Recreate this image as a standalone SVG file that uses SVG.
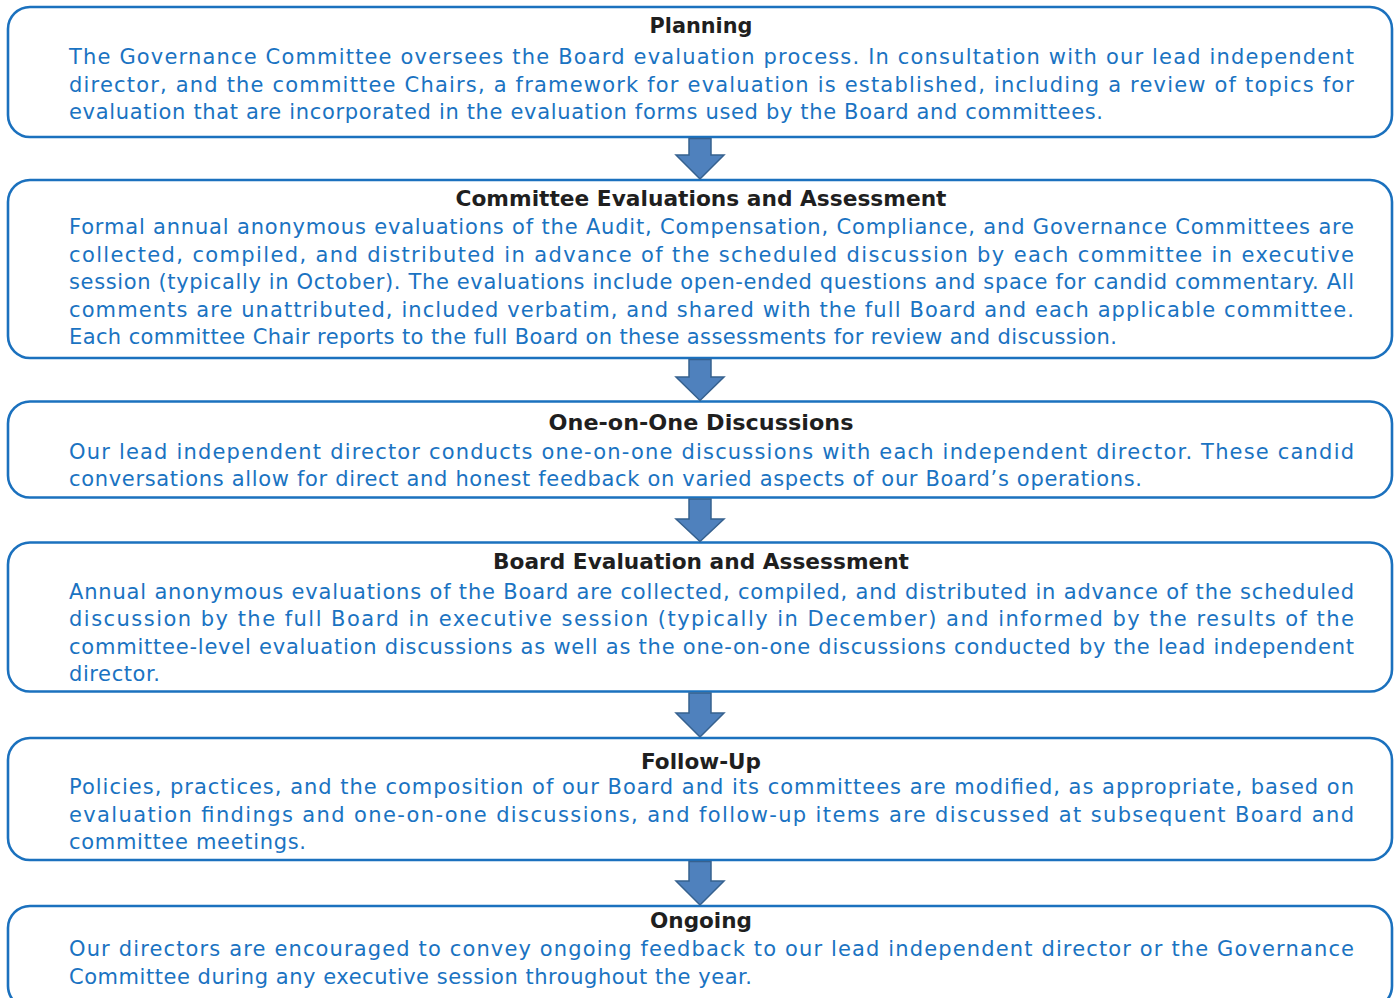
<svg xmlns="http://www.w3.org/2000/svg" width="1395" height="998" viewBox="0 0 1395 998">
<style>
.box{fill:#ffffff;stroke:#1b71be;stroke-width:2.6}
.t{font-family:"DejaVu Sans","Liberation Sans",sans-serif;font-weight:bold;font-size:22px;fill:#1f1f1f;text-anchor:middle}
.b{font-family:"DejaVu Sans","Liberation Sans",sans-serif;font-size:21px;fill:#1a73c2}
.arr{fill:#4f81bd;stroke:#36618f;stroke-width:1.5}
</style>
<rect width="1395" height="998" fill="#ffffff"/>
<g id="node-planning">
<rect class="box" x="8" y="7" width="1384" height="130" rx="22"/>
<text class="t" x="701" y="33" textLength="103" lengthAdjust="spacingAndGlyphs">Planning</text>
<text class="b" x="69" y="63.5" textLength="1285" lengthAdjust="spacing">The Governance Committee oversees the Board evaluation process. In consultation with our lead independent</text>
<text class="b" x="69" y="91.5" textLength="1285" lengthAdjust="spacing">director, and the committee Chairs, a framework for evaluation is established, including a review of topics for</text>
<text class="b" x="69" y="118.5" textLength="1034" lengthAdjust="spacing">evaluation that are incorporated in the evaluation forms used by the Board and committees.</text>
</g>
<g id="node-committee">
<rect class="box" x="8" y="180" width="1384" height="178" rx="22"/>
<text class="t" x="701" y="205.5" textLength="491" lengthAdjust="spacingAndGlyphs">Committee Evaluations and Assessment</text>
<text class="b" x="69" y="233.5" textLength="1285" lengthAdjust="spacing">Formal annual anonymous evaluations of the Audit, Compensation, Compliance, and Governance Committees are</text>
<text class="b" x="69" y="261.5" textLength="1285" lengthAdjust="spacing">collected, compiled, and distributed in advance of the scheduled discussion by each committee in executive</text>
<text class="b" x="69" y="288.5" textLength="1285" lengthAdjust="spacing">session (typically in October). The evaluations include open-ended questions and space for candid commentary. All</text>
<text class="b" x="69" y="316.5" textLength="1285" lengthAdjust="spacing">comments are unattributed, included verbatim, and shared with the full Board and each applicable committee.</text>
<text class="b" x="69" y="343.5" textLength="1048" lengthAdjust="spacing">Each committee Chair reports to the full Board on these assessments for review and discussion.</text>
</g>
<g id="node-oneonone">
<rect class="box" x="8" y="401.5" width="1384" height="96" rx="22"/>
<text class="t" x="701" y="429.5" textLength="305" lengthAdjust="spacingAndGlyphs">One-on-One Discussions</text>
<text class="b" x="69" y="458.5" textLength="1285" lengthAdjust="spacing">Our lead independent director conducts one-on-one discussions with each independent director. These candid</text>
<text class="b" x="69" y="485.5" textLength="1073" lengthAdjust="spacing">conversations allow for direct and honest feedback on varied aspects of our Board’s operations.</text>
</g>
<g id="node-board">
<rect class="box" x="8" y="542.5" width="1384" height="149" rx="22"/>
<text class="t" x="701" y="568.5" textLength="416" lengthAdjust="spacingAndGlyphs">Board Evaluation and Assessment</text>
<text class="b" x="69" y="599" textLength="1285" lengthAdjust="spacing">Annual anonymous evaluations of the Board are collected, compiled, and distributed in advance of the scheduled</text>
<text class="b" x="69" y="626" textLength="1285" lengthAdjust="spacing">discussion by the full Board in executive session (typically in December) and informed by the results of the</text>
<text class="b" x="69" y="653.5" textLength="1285" lengthAdjust="spacing">committee-level evaluation discussions as well as the one-on-one discussions conducted by the lead independent</text>
<text class="b" x="69" y="680.5" textLength="91" lengthAdjust="spacing">director.</text>
</g>
<g id="node-followup">
<rect class="box" x="8" y="738" width="1384" height="122" rx="22"/>
<text class="t" x="701" y="768.5" textLength="120" lengthAdjust="spacingAndGlyphs">Follow-Up</text>
<text class="b" x="69" y="793.5" textLength="1285" lengthAdjust="spacing">Policies, practices, and the composition of our Board and its committees are modified, as appropriate, based on</text>
<text class="b" x="69" y="821.5" textLength="1285" lengthAdjust="spacing">evaluation findings and one-on-one discussions, and follow-up items are discussed at subsequent Board and</text>
<text class="b" x="69" y="848.5" textLength="237" lengthAdjust="spacing">committee meetings.</text>
</g>
<g id="node-ongoing">
<rect class="box" x="8" y="906" width="1384" height="102" rx="22"/>
<text class="t" x="701" y="927.5" textLength="102" lengthAdjust="spacingAndGlyphs">Ongoing</text>
<text class="b" x="69" y="955.5" textLength="1285" lengthAdjust="spacing">Our directors are encouraged to convey ongoing feedback to our lead independent director or the Governance</text>
<text class="b" x="69" y="983.5" textLength="683" lengthAdjust="spacing">Committee during any executive session throughout the year.</text>
</g>
<g id="connectors">
<path class="arr" d="M689,138.5 L711,138.5 L711,155 L724,155 L700,179 L676,155 L689,155 Z"/>
<path class="arr" d="M689,359.5 L711,359.5 L711,377 L724,377 L700,400.5 L676,377 L689,377 Z"/>
<path class="arr" d="M689,499 L711,499 L711,519 L724,519 L700,541.5 L676,519 L689,519 Z"/>
<path class="arr" d="M689,693 L711,693 L711,713 L724,713 L700,737 L676,713 L689,713 Z"/>
<path class="arr" d="M689,861.5 L711,861.5 L711,881 L724,881 L700,905 L676,881 L689,881 Z"/>
</g>
</svg>
